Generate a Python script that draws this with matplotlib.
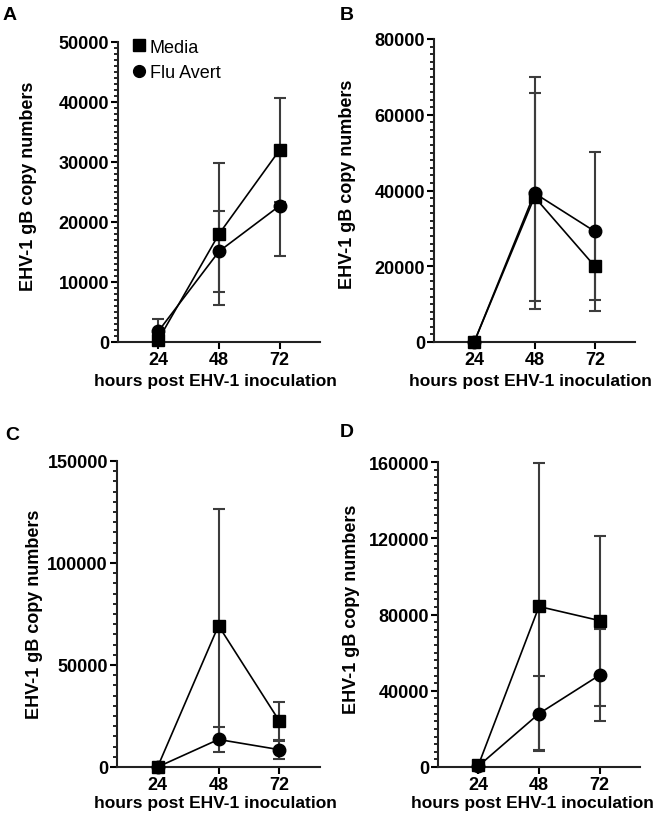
import matplotlib
matplotlib.use("Agg")
import matplotlib.pyplot as plt
from matplotlib.ticker import MultipleLocator, AutoMinorLocator
from matplotlib.lines import Line2D

plt.rcParams['font.family'] = ['Liberation Sans', 'DejaVu Sans']

W, H = 661, 820

hours = [24, 48, 72]
series_names = ["Media", "Flu Avert"]

# Panel A
a_media = [400, 18000, 32000]
a_media_err = [0, 11800, 8600]
a_flu = [1800, 15100, 22700]
a_flu_err = [2100, 6800, 8400]
# Panel B
b_media = [0, 38300, 20000]
b_media_err = [0, 27500, 9000]
b_flu = [0, 39300, 29200]
b_flu_err = [0, 30600, 21000]
# Panel C
c_media = [0, 69300, 22500]
c_media_err = [0, 57000, 9600]
c_flu = [0, 13500, 8500]
c_flu_err = [0, 6300, 4800]
# Panel D
d_media = [1000, 84200, 76800]
d_media_err = [0, 75400, 44600]
d_flu = [500, 28000, 48200]
d_flu_err = [0, 19500, 24000]

panels = [
    ("A", a_media, a_media_err, a_flu, a_flu_err, 50000, 10000),
    ("B", b_media, b_media_err, b_flu, b_flu_err, 80000, 20000),
    ("C", c_media, c_media_err, c_flu, c_flu_err, 150000, 50000),
    ("D", d_media, d_media_err, d_flu, d_flu_err, 160000, 40000),
]

# axes boxes in pixels: left, right, top, bottom
boxes = [(118, 320, 43, 343), (434, 635, 40, 343), (117, 320, 462, 768), (438, 640, 463, 768)]
letter_pos = [(3, 20), (340, 20), (5, 440), (340, 437)]
ylabel_pos = [(29, 186), (348, 184), (35, 614), (351, 609)]
xlabel_pos = [(215, 382), (530, 382), (215, 804), (532, 804)]

fig = plt.figure(figsize=(W/100, H/100), dpi=100)

FS = 13
for i, (letter, m, me, f, fe, ymax, ystep) in enumerate(panels):
    l, r, t, b = boxes[i]
    ax = fig.add_axes((l/W, 1-b/H, (r-l)/W, (b-t)/H))
    for vals, errs in ((m, me), (f, fe)):
        ax.errorbar(hours, vals, yerr=errs, fmt='none', ecolor='#3c3c3c', elinewidth=1.5,
                    capsize=4, capthick=1.5, zorder=2)
    ax.plot(hours, m, color='black', lw=1.2, marker='s', ms=8.5, zorder=3)
    ax.plot(hours, f, color='black', lw=1.2, marker='o', ms=9, zorder=3)
    ax.set_xlim(8, 88)
    ax.set_ylim(0, ymax)
    ax.set_xticks(hours)
    ax.yaxis.set_major_locator(MultipleLocator(ystep))
    ax.yaxis.set_minor_locator(AutoMinorLocator(10))
    for s in ['top', 'right']:
        ax.spines[s].set_visible(False)
    for s in ['left', 'bottom']:
        ax.spines[s].set_linewidth(1.5)
        ax.spines[s].set_color('#222222')
    ax.tick_params(axis='both', which='major', labelsize=FS, width=1.5, length=5, pad=1.5)
    ax.tick_params(axis='y', which='minor', width=1.2, length=3)
    for lab in ax.get_xticklabels() + ax.get_yticklabels():
        lab.set_fontweight('bold')
    ax.set_xlabel("hours post EHV-1 inoculation", fontsize=12.5, fontweight='bold', va='center')
    ax.set_ylabel("EHV-1 gB copy numbers", fontsize=FS, fontweight='bold', va='center')
    ax.xaxis.set_label_coords(xlabel_pos[i][0]/W, 1-xlabel_pos[i][1]/H, transform=fig.transFigure)
    ax.yaxis.set_label_coords(ylabel_pos[i][0]/W, 1-ylabel_pos[i][1]/H, transform=fig.transFigure)
    for art in ax.lines + ax.collections:
        art.set_clip_on(False)
    if i == 0:
        handles = [Line2D([], [], ls='none', marker='s', ms=8, color='black'),
                   Line2D([], [], ls='none', marker='o', ms=8.5, color='black')]
        ax.legend(handles, series_names, loc='upper left', frameon=False, fontsize=FS,
                  handlelength=0.6, handletextpad=0.3, borderaxespad=0.0, labelspacing=0.45,
                  bbox_to_anchor=(0.04, 1.035))
    fig.text(letter_pos[i][0]/W, 1-letter_pos[i][1]/H, letter, fontsize=14,
             fontweight='bold', ha='left', va='baseline')

fig.savefig("out.png", dpi=100)
